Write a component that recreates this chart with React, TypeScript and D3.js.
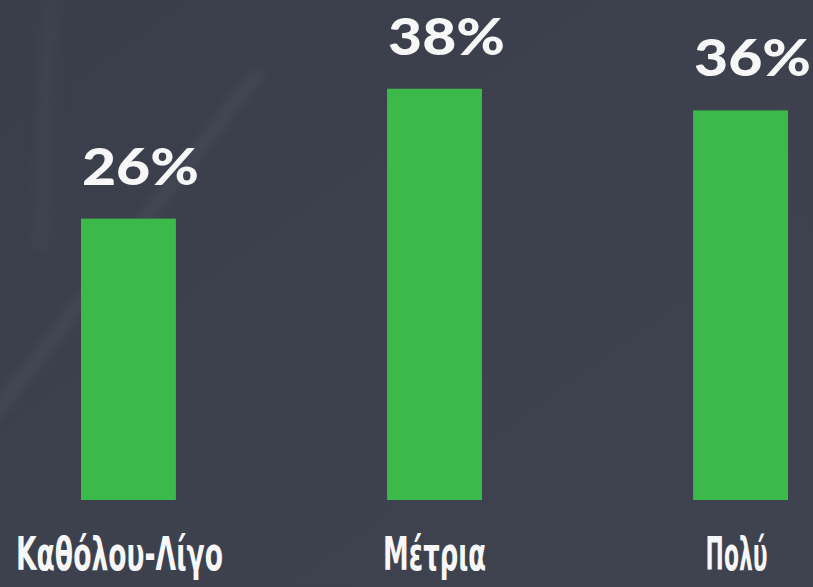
import React, { useLayoutEffect, useRef, useState } from "react";
import * as d3 from "d3";

const categories = ["Καθόλου-Λίγο", "Μέτρια", "Πολύ"];
const values = [26, 38, 36];
const valueLabels = ["26%", "38%", "36%"];

const W = 813;
const H = 587;

export default function App() {
  const x = d3
    .scaleBand<string>()
    .domain(categories)
    .range([81, 788])
    .paddingInner(0.69)
    .paddingOuter(0);
  const y = d3.scaleLinear().domain([0, 46.2]).range([500, 0]);
  const catWidths = [207, 103, 62];
  const catRefs = useRef<(SVGTextElement | null)[]>([]);
  const [scales, setScales] = useState<number[]>([0.6, 0.6, 0.6]);

  useLayoutEffect(() => {
    const s = catRefs.current.map((el, i) => {
      if (!el) return 0.6;
      const w = el.getComputedTextLength();
      return w > 0 ? catWidths[i] / w : 0.6;
    });
    setScales(s);
  }, []);

  return (
    <svg
      width={W}
      height={H}
      viewBox={`0 0 ${W} ${H}`}
      style={{ position: "absolute", left: 0, top: 0, display: "block" }}
    >
      <defs>
        <linearGradient id="bg" x1="0" y1="0" x2="1" y2="1">
          <stop offset="0" stopColor="#3a3e4a" />
          <stop offset="0.5" stopColor="#3d414d" />
          <stop offset="1" stopColor="#3f4350" />
        </linearGradient>
        <filter id="blur" x="-50%" y="-50%" width="200%" height="200%">
          <feGaussianBlur stdDeviation="6" />
        </filter>
      </defs>
      <rect x={0} y={0} width={W} height={H} fill="url(#bg)" />
      <g filter="url(#blur)" opacity={0.35}>
        <line x1={-10} y1={420} x2={260} y2={70} stroke="#5a5e6a" strokeWidth={10} />
        <line x1={50} y1={0} x2={40} y2={250} stroke="#4a4e5a" strokeWidth={14} />
      </g>
      {categories.map((c, i) => {
        const bx = x(c)!;
        const bw = x.bandwidth();
        const cx = bx + bw / 2;
        const lx = cx - (i === 0 ? 9 : 0) + (i === 2 ? -4 : 0);
        return (
          <g key={c}>
            <rect
              x={bx}
              y={y(values[i])}
              width={bw}
              height={y(0) - y(values[i])}
              fill="#3bb94a"
            />
            <text
              x={cx + 12}
              y={y(values[i]) - 34}
              textAnchor="middle"
              fill="#f7f7f7"
              fontFamily="Lato, 'DejaVu Sans', sans-serif"
              fontWeight={900}
              fontSize={52}
              textLength={117}
              lengthAdjust="spacingAndGlyphs"
            >
              {valueLabels[i]}
            </text>
            <g transform={`translate(${lx},570) scale(${scales[i]},1)`}>
              <text
                ref={(el) => {
                  catRefs.current[i] = el;
                }}
                x={0}
                y={0}
                textAnchor="middle"
                fill="#f7f7f7"
                fontFamily="'Liberation Sans Narrow', 'DejaVu Sans Condensed', sans-serif"
                fontWeight={700}
                fontSize={46}
              >
                {c}
              </text>
            </g>
          </g>
        );
      })}
    </svg>
  );
}
